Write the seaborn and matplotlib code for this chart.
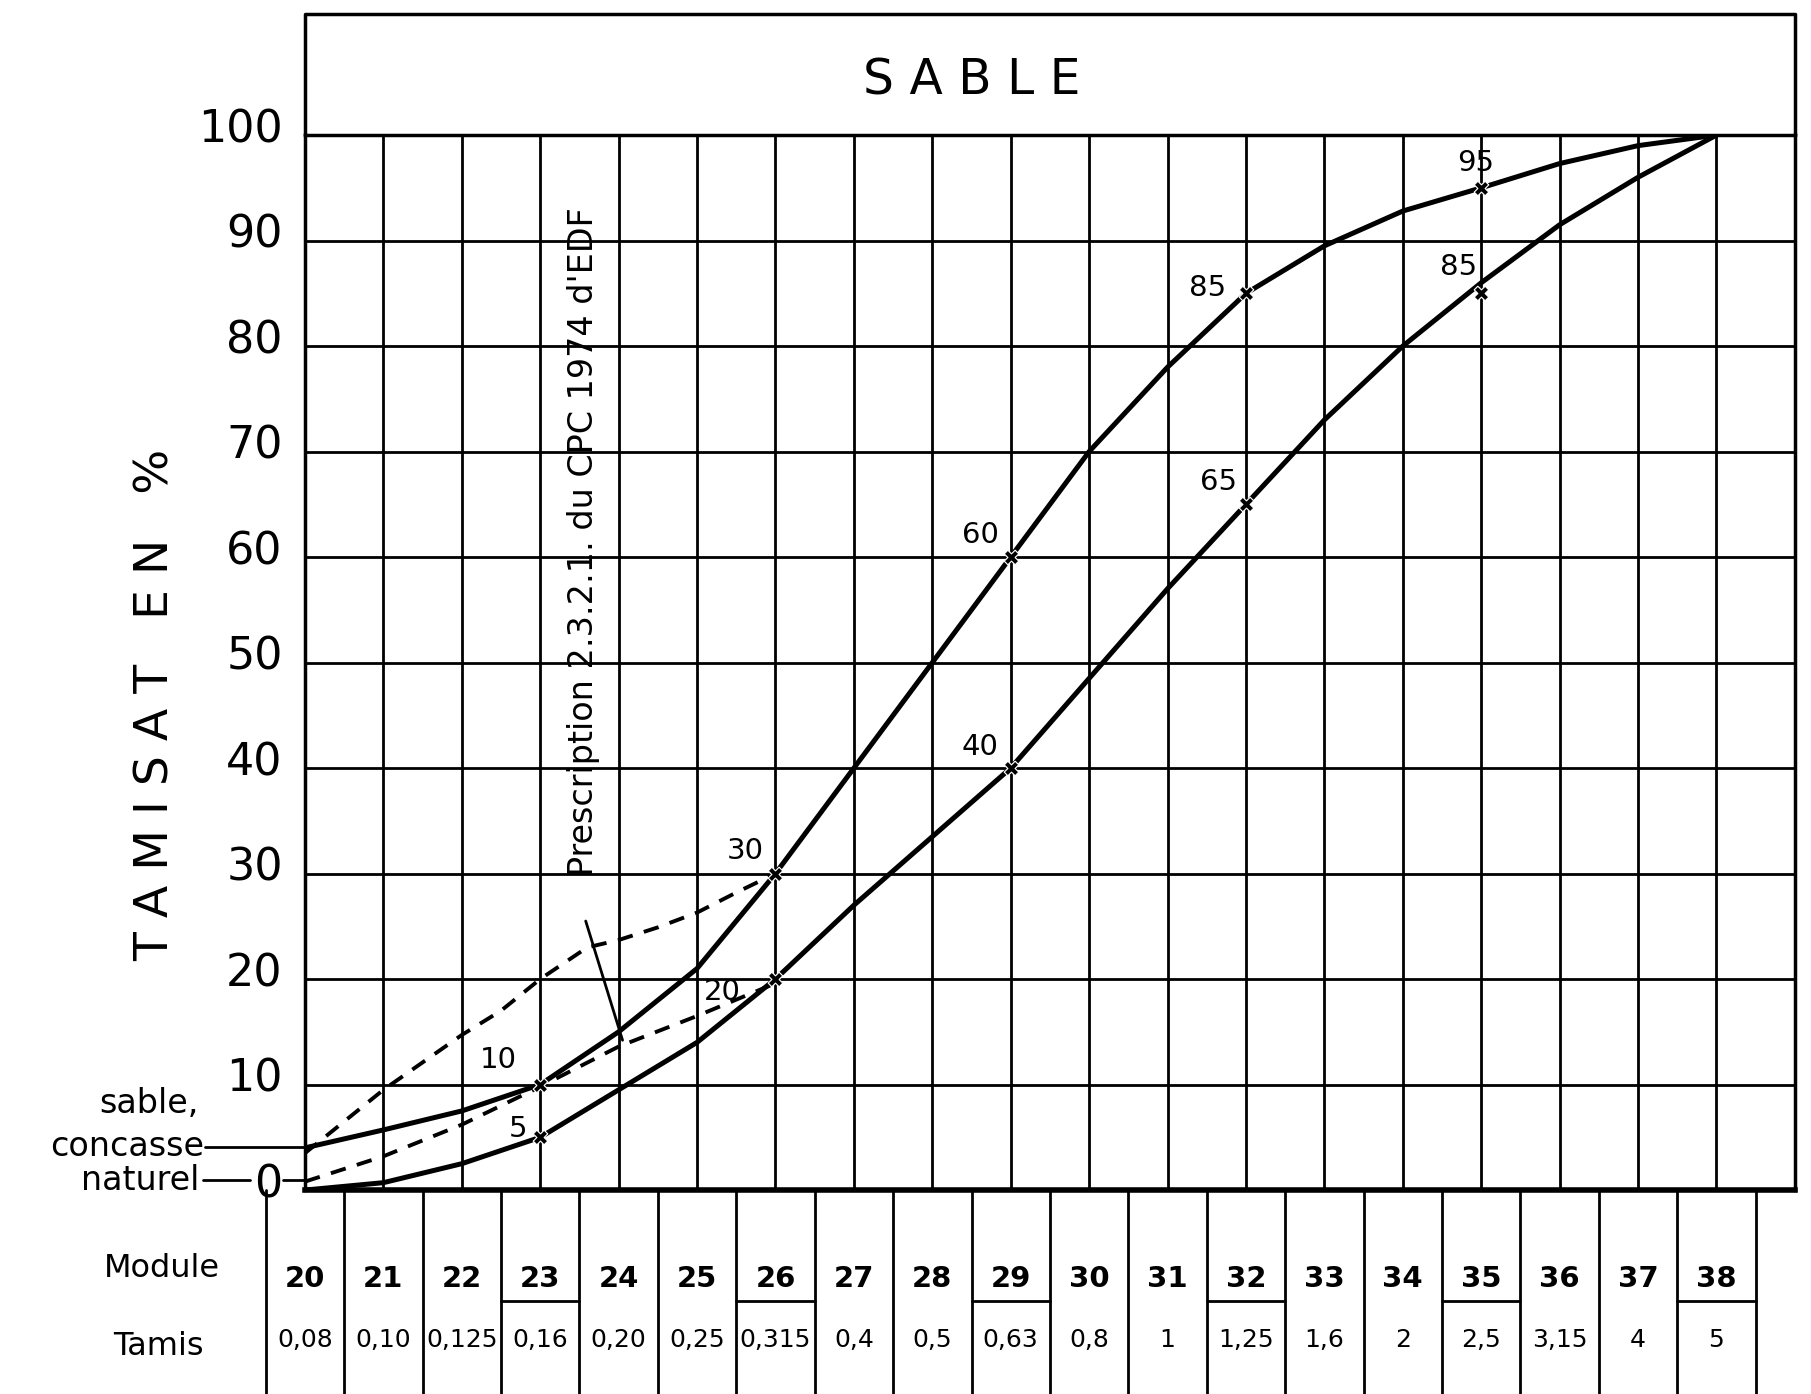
import numpy as np
import pandas as pd
import seaborn as sns
import matplotlib.pyplot as plt
from matplotlib.transforms import ScaledTranslation

# module numbers and matching sieve sizes (mm)
module = list(range(20, 39))
tamis = ['0,08', '0,10', '0,125', '0,16', '0,20', '0,25', '0,315', '0,4', '0,5', '0,63',
         '0,8', '1', '1,25', '1,6', '2', '2,5', '3,15', '4', '5']

# passing %
concasse = [4, 5.7, 7.5, 10, 15, 21, 30, 40, 50, 60, 70, 78, 85, 89.5, 92.8, 95, 97.3, 99, 100]
naturel = [0, 0.7, 2.5, 5, 9.5, 14, 20, 27, 33.5, 40, 48.5, 57, 65, 73, 80, 86, 91.5, 96, 100]

# dashed prescription lines (CPC 1974)
presc_up_x = [20, 21, 22, 22.5, 23, 23.6, 24, 24.5, 25, 25.5, 26]
presc_up_y = [3.5, 9.5, 14.7, 17, 20, 23, 23.7, 24.9, 26.3, 28.2, 30]
presc_lo_x = [20, 21, 22, 23, 24, 25, 26]
presc_lo_y = [0.8, 3.2, 6.2, 9.8, 13.6, 16.5, 19.6]

# marked points with their values
key_modules = [23, 26, 29, 32, 35]
key_conc = [10, 30, 60, 85, 95]
key_nat = [5, 20, 40, 65, 85]
underlined = [23, 26, 29, 32, 35, 38]

sns.set_style('white')
plt.rcParams['font.family'] = ['DejaVu Sans']
plt.rcParams['text.color'] = 'black'
plt.rcParams['ytick.color'] = 'black'
plt.rcParams['xtick.color'] = 'black'

fig = plt.figure(figsize=(18.11, 13.94), dpi=100)
ax = fig.add_axes([0.1684, 0.1463, 0.8227, 0.7568])

df = pd.DataFrame({'module': module, 'concasse': concasse, 'naturel': naturel})
sns.lineplot(data=df, x='module', y='concasse', color='black', lw=3.6, ax=ax)
sns.lineplot(data=df, x='module', y='naturel', color='black', lw=3.6, ax=ax)
sns.lineplot(x=presc_up_x, y=presc_up_y, color='black', lw=2.8, ls=(0, (4, 3)), ax=ax)
sns.lineplot(x=presc_lo_x, y=presc_lo_y, color='black', lw=2.8, ls=(0, (4, 3)), ax=ax)
sns.scatterplot(x=key_modules + key_modules, y=key_conc + key_nat, color='black',
                marker='X', s=110, ax=ax, zorder=5)

# value labels next to marked points
off_conc = [(-30, 18), (-22, 16), (-22, 16), (-28, 4), (-4, 18)]
off_nat = [(-16, 6), (-38, -9), (-22, 15), (-20, 16), (-16, 19)]
for m, v, o in zip(key_modules, key_conc, off_conc):
    ax.annotate(str(v), (m, v), xytext=o, textcoords='offset points',
                ha='center', va='center', fontsize=21)
for m, v, o in zip(key_modules, key_nat, off_nat):
    ax.annotate(str(v), (m, v), xytext=o, textcoords='offset points',
                ha='center', va='center', fontsize=21)

ax.set_xlim(20, 39)
ax.set_ylim(0, 100)
ax.set_xticks(range(20, 40))
ax.set_xticklabels([])
ax.set_yticks(range(0, 101, 10))
ax.set_yticklabels([str(v) for v in range(0, 101, 10)], fontsize=32)
ax.tick_params(length=0, pad=16)
for lab in ax.get_yticklabels():
    lab.set_transform(lab.get_transform() + ScaledTranslation(0, 7 / 72, fig.dpi_scale_trans))
ax.grid(True, color='black', lw=2)
for s in ax.spines.values():
    s.set_color('black')
    s.set_linewidth(2.5)
ax.spines['bottom'].set_linewidth(4)
ax.set_xlabel('')
ax.set_ylabel('')

# title box on top
ax.plot([20, 20, 39, 39], [100, 111.5, 111.5, 100], color='black', lw=2.5, clip_on=False)
ax.text(28.5, 105.2, 'S A B L E', ha='center', va='center', fontsize=35)

ax.text(18.1, 46, 'T A M I S A T   E N   %', rotation=90, ha='center', va='center', fontsize=34)

# prescription note with leader
ax.text(23.55, 61.5, "Prescription 2.3.2.1. du CPC 1974 d'EDF", rotation=90,
        ha='center', va='center', fontsize=24)
ax.plot([23.58, 24.05], [25.5, 14.2], color='black', lw=2)

# left-side labels for the two curves
ax.text(18.65, 8.2, 'sable,', ha='right', va='center', fontsize=24)
ax.text(18.72, 4.1, 'concasse', ha='right', va='center', fontsize=24)
ax.text(18.65, 0.9, 'naturel', ha='right', va='center', fontsize=24)
ax.plot([18.72, 20], [4.1, 4.1], color='black', lw=2, clip_on=False)
ax.plot([18.7, 19.3], [1.0, 1.0], color='black', lw=2, clip_on=False)
ax.plot([19.72, 20], [1.0, 1.0], color='black', lw=2, clip_on=False)

# table of module / tamis below the chart
borders = [m - 0.5 for m in module] + [module[-1] + 0.5]
for b in borders:
    ax.plot([b, b], [0, -20], color='black', lw=2, clip_on=False)
for m in underlined:
    ax.plot([m - 0.5, m + 0.5], [-10.5, -10.5], color='black', lw=2, clip_on=False)
for m, t in zip(module, tamis):
    ax.text(m, -8.4, str(m), ha='center', va='center', fontsize=21, fontweight='bold')
    ax.text(m, -14.2, t, ha='center', va='center', fontsize=18)
ax.text(18.18, -7.4, 'Module', ha='center', va='center', fontsize=23)
ax.text(18.13, -14.8, 'Tamis', ha='center', va='center', fontsize=23)

fig.savefig('out.png', dpi=100)
